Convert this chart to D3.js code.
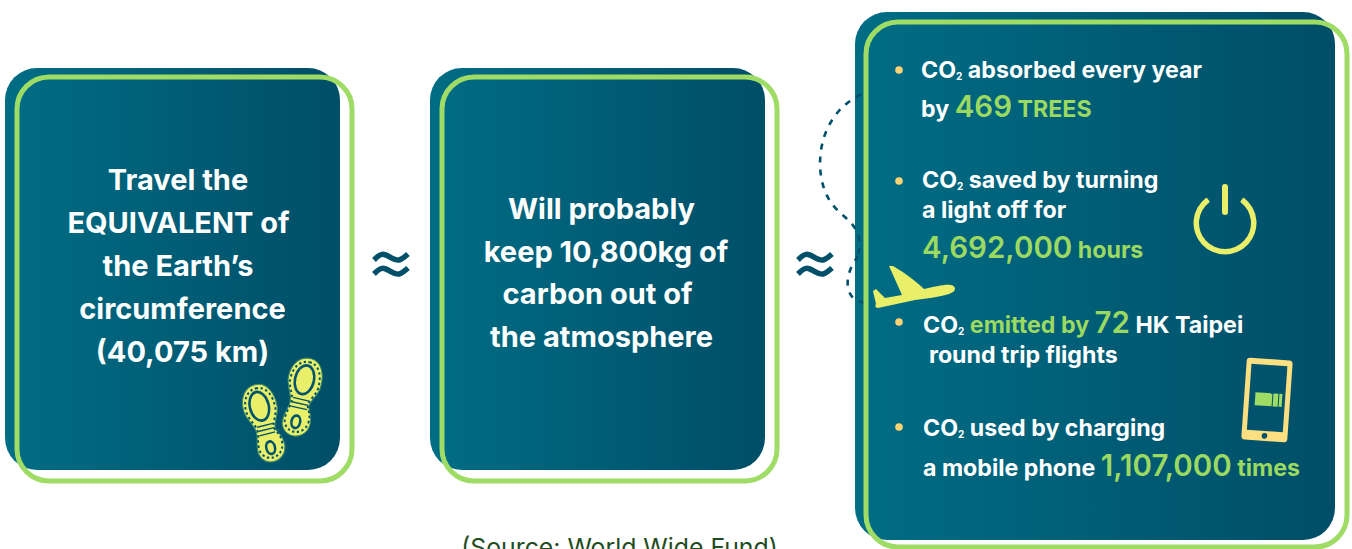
<!DOCTYPE html>
<html><head><meta charset="utf-8">
<script src="https://cdn.jsdelivr.net/npm/d3@7"></script>
<style>
html,body{margin:0;padding:0;background:#fff;overflow:hidden}
text{font-family:Inter,Lato,sans-serif;font-weight:700}
</style></head><body><svg id="c" width="1352" height="549"></svg>
<script>
const box1Lines=["Travel the","EQUIVALENT of","the Earth’s","circumference","(40,075 km)"];
const box2Lines=["Will probably","keep 10,800kg of","carbon out of","the atmosphere"];
const sourceText="(Source: World Wide Fund)";
// rich lines: [text, style] runs; w = white, g = green, G = big green, s = subscript
const factLines=[
 [["CO","w"],["2","s"],[" absorbed every year","w"]],
 [["by ","w"],["469","G"],[" TREES","g"]],
 [["CO","w"],["2","s"],[" saved by turning","w"]],
 [["a light off for","w"]],
 [["4,692,000","G"],[" hours","g"]],
 [["CO","w"],["2","s"],[" emitted by ","g"],["72","G"],[" HK Taipei","w"]],
 [["round trip flights","w"]],
 [["CO","w"],["2","s"],[" used by charging","w"]],
 [["a mobile phone ","w"],["1,107,000","G"],[" times","g"]]
];
const factLayout=[[921,78],[921,117],[922,188],[922,218],[922,258],[923,333],[929,363],[923,436],[923,476]];
const bulletPos=[[899,70],[899,181],[899,322],[899,427]];
const boxes=[
 {dark:[5,68,335,402],line:[17,77,335,404],r:32},
 {dark:[430,68,335,402],line:[442,77,335,404],r:32},
 {dark:[855,12,480,528],line:[866,22,481,525],r:32}
];
const svg=d3.select("#c");
const defs=svg.append("defs");
const grad=defs.append("linearGradient").attr("id","tg");
grad.append("stop").attr("offset","0").attr("stop-color","#006d85");
grad.append("stop").attr("offset","1").attr("stop-color","#004e67");

const colors={w:"#ffffff",g:"#9bd960",G:"#9bd960",s:"#ffffff"};
const sizes={w:23.2,g:23.2,G:29.5,s:10};

boxes.forEach(b=>{
 svg.append("rect").attr("x",b.dark[0]).attr("y",b.dark[1]).attr("width",b.dark[2]).attr("height",b.dark[3]).attr("rx",b.r).attr("fill","url(#tg)");
});
const dash=svg.append("g").attr("fill","none").attr("stroke","#00506a").attr("stroke-width",2.6).attr("stroke-dasharray","6 7");
dash.append("path").attr("d",d3.line().curve(d3.curveBasis)([[861,94],[838,108],[820,140],[819,180],[832,208],[853,222],[861,240],[858,256]]));
dash.append("path").attr("d",d3.line().curve(d3.curveBasis)([[858,256],[850,268],[846,285],[852,300],[866,303]]));
boxes.forEach(b=>{
 svg.append("rect").attr("x",b.line[0]).attr("y",b.line[1]).attr("width",b.line[2]).attr("height",b.line[3]).attr("rx",b.r).attr("fill","none").attr("stroke","#9fdc66").attr("stroke-width",5);
});

svg.append("g").selectAll("text").data(box1Lines).join("text")
 .attr("x",(d,i)=>[178,178.5,178,182.5,182.5][i]).attr("y",(d,i)=>190+i*43)
 .attr("text-anchor","middle").attr("fill","#fff").attr("font-size",29).text(d=>d);
svg.append("g").selectAll("text").data(box2Lines).join("text")
 .attr("x",(d,i)=>[601.5,606,597.5,601.5][i]).attr("y",(d,i)=>219+i*42.6)
 .attr("text-anchor","middle").attr("fill","#fff").attr("font-size",29).text(d=>d);

[[391,264],[815,264]].forEach(p=>{
 const g=svg.append("g").attr("transform",`translate(${p[0]},${p[1]})`).attr("fill","none").attr("stroke","#00506a").attr("stroke-width",5.4);
 [-7,7].forEach(dy=>g.append("path").attr("d",d3.line().curve(d3.curveBasis)([[-17,dy+3],[-9,dy-5],[0,dy+1],[8,dy+5],[17,dy-3]])));
});

const ft=svg.append("g");
factLines.forEach((runs,i)=>{
 const t=ft.append("text").attr("x",factLayout[i][0]).attr("y",factLayout[i][1]);
 runs.forEach((r,j)=>{
  const after=j>0&&runs[j-1][1]==="s";
  t.append("tspan").attr("font-size",sizes[r[1]]).attr("fill",colors[r[1]])
   .attr("font-weight",r[1]==="G"?600:700)
   .attr("dy",r[1]==="s"?2:(after?-2:0))
   .style("white-space","pre").text(r[0]);
 });
});
svg.append("g").selectAll("circle").data(bulletPos).join("circle")
 .attr("cx",d=>d[0]).attr("cy",d=>d[1]).attr("r",3.8).attr("fill","#fdd272");

svg.append("text").attr("x",619.5).attr("y",556).attr("text-anchor","middle").attr("fill","#1f4d1f")
 .attr("font-size",24.8).style("font-weight",400).text(sourceText);

svg.append("path").attr("fill","#e9ef68").attr("d","M889 266 L893 266 C905 273 917 282 924 289 C934 287 945 284 951 285 C956 286 956 290 953 292 C947 296 930 298 915 300 L878 308 C875 308 875 305 876 304 L873 291 L876 289 L885 298 L902 295 Z");
const yel="#e9ef68";
const arc=d3.arc().innerRadius(26).outerRadius(31.5).startAngle(0.62).endAngle(2*Math.PI-0.62).cornerRadius(1);
svg.append("path").attr("d",arc()).attr("transform","translate(1225,223)").attr("fill",yel);
svg.append("rect").attr("x",1222).attr("y",184).attr("width",6).attr("height",31).attr("rx",3).attr("fill",yel);
const ph=svg.append("g").attr("transform","translate(1267,400) rotate(4)");
ph.append("rect").attr("x",-23).attr("y",-41).attr("width",46).attr("height",82).attr("rx",3.5).attr("fill","#fcdf80");
ph.append("rect").attr("x",-18).attr("y",-35).attr("width",36).attr("height",66).attr("fill","#00536c");
ph.append("circle").attr("cx",0).attr("cy",36).attr("r",2.8).attr("fill","#00536c");
[[-12,17],[6,5],[12,3]].forEach(d=>ph.append("rect").attr("x",d[0]).attr("y",-7).attr("width",d[1]).attr("height",13).attr("fill","#9fdc66"));
function shoe(cx,cy,rot){
 const g=svg.append("g").attr("transform",`translate(${cx},${cy}) rotate(${rot}) scale(1.02,1.1)`);
 const outline="M0 -34 C12 -34 17 -22 16 -10 C15 -2 9 3 9 9 C10 13 15 17 14 26 C13 34 6 38 0 38 C-7 38 -13 33 -13 26 C-13 17 -9 13 -10 7 C-11 0 -17 -6 -17 -14 C-17 -26 -10 -34 0 -34 Z";
 g.append("path").attr("d",outline).attr("fill",yel).attr("stroke","#3e8a6a").attr("stroke-width",1);
 g.append("path").attr("d",outline).attr("fill","none").attr("stroke","#00536c").attr("stroke-width",2.2).attr("stroke-dasharray","2.5 2.8").attr("transform","scale(.87,.9)");
 g.append("ellipse").attr("cx",-1).attr("cy",-14).attr("rx",10.5).attr("ry",14.5).attr("fill","#00536c");
 g.append("ellipse").attr("cx",-1).attr("cy",-14).attr("rx",8).attr("ry",12).attr("fill",yel);
 [4,8,12].forEach(y=>g.append("line").attr("x1",-8).attr("x2",8).attr("y1",y).attr("y2",y).attr("stroke","#00536c").attr("stroke-width",1.2));
 g.append("ellipse").attr("cx",0).attr("cy",25).attr("rx",5.5).attr("ry",7).attr("fill","#00536c");
 g.append("ellipse").attr("cx",0).attr("cy",25).attr("rx",3).attr("ry",4.5).attr("fill",yel);
}
shoe(264,421,-14);
shoe(302,395,13);
</script></body></html>
